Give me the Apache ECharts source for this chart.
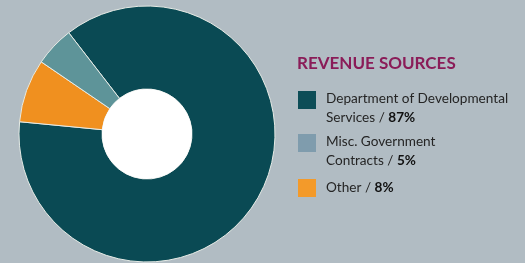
<!DOCTYPE html>
<html>
<head>
<meta charset="utf-8">
<style>
  html, body { margin: 0; padding: 0; background: #b1bcc3; }
  #chart { width: 525px; height: 263px; }
</style>
<script src="https://cdn.jsdelivr.net/npm/echarts@6/dist/echarts.min.js"></script>
</head>
<body>
<div id="chart"></div>
<script>
// Data
const categories = ['Department of Developmental Services', 'Misc. Government Contracts', 'Other'];
const values = [87, 5, 8];
const legendLines = [['Department of Developmental', 'Services'], ['Misc. Government', 'Contracts'], ['Other']];
const sliceColors = ['#0a4a54', '#5e9499', '#f0901f'];
const legendColors = ['#0d4d57', '#7f9cad', '#f39a2a'];
const titleText = 'REVENUE SOURCES';

// pie drawing order (clockwise): Dept, Other, Misc
const pieOrder = [0, 2, 1];
const pieData = pieOrder.map(i => ({
  name: categories[i],
  value: values[i],
  itemStyle: { color: sliceColors[i] }
}));

const legendTops = [91, 134, 179];
const legends = categories.map((c, i) => {
  const twoLine = legendLines[i].length > 1;
  return {
    data: [{ name: c, itemStyle: { color: legendColors[i], borderWidth: 0 } }],
    orient: 'vertical',
    left: 298,
    top: legendTops[i],
    padding: 0,
    itemWidth: 18,
    itemHeight: 18,
    itemGap: 0,
    icon: 'rect',
    itemStyle: { borderWidth: 0 },
    selectedMode: false,
    formatter: function () {
      const lines = legendLines[i];
      const last = lines[lines.length - 1] + ' / ';
      const head = lines.slice(0, -1).map(l => '{n|' + l + '}');
      head.push('{n|' + last + '}{b|' + values[i] + '%}');
      return head.join('\n');
    },
    textStyle: {
      padding: twoLine ? [16, 0, 0, 5] : [0, 0, 0, 5],
      rich: {
        n: { fontFamily: 'Lato', fontSize: 13.6, color: '#252525', lineHeight: 19 },
        b: { fontFamily: 'Lato', fontSize: 13.6, fontWeight: 'bold', color: '#111111', lineHeight: 19 }
      }
    }
  };
});

const chart = echarts.init(document.getElementById('chart'), null, { renderer: 'canvas' });
chart.setOption({
  backgroundColor: '#b1bcc3',
  animation: false,
  title: {
    text: titleText,
    left: 297,
    top: 55,
    padding: 0,
    textStyle: { fontFamily: 'Lato', fontWeight: 'bold', fontSize: 17, color: '#8a1c58' }
  },
  legend: legends,
  series: [{
    type: 'pie',
    center: [147, 134],
    radius: [45, 128],
    startAngle: 127.7,
    clockwise: true,
    label: { show: false },
    labelLine: { show: false },
    emphasis: { disabled: true },
    itemStyle: { borderColor: '#e6ebe6', borderWidth: 1 },
    data: pieData
  }, {
    type: 'pie',
    center: [147, 134],
    radius: [0, 45],
    silent: true,
    label: { show: false },
    labelLine: { show: false },
    emphasis: { disabled: true },
    itemStyle: { color: '#ffffff' },
    data: [{ value: 1, name: '' }]
  }]
});
</script>
</body>
</html>
